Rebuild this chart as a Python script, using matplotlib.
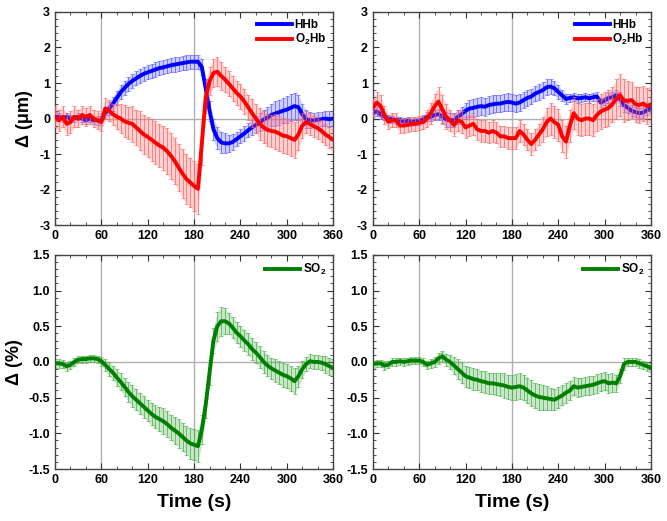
import numpy as np
import matplotlib
matplotlib.use('Agg')
import matplotlib.pyplot as plt
from matplotlib.ticker import MultipleLocator

plt.rcParams['font.family'] = ['Liberation Sans', 'DejaVu Sans']
plt.rcParams['font.weight'] = 'bold'
plt.rcParams['mathtext.fontset'] = 'custom'
plt.rcParams['mathtext.rm'] = 'Liberation Sans:bold'
plt.rcParams['mathtext.bf'] = 'Liberation Sans:bold'

# time axis, one reading every 5 s
time = np.arange(0, 361, 5)

# left column: first condition
hhb_left = [0.05, 0.05, 0.0, 0.05, 0.0, 0.0, 0.05, 0.0, -0.05, 0.0, -0.05, -0.05,
            -0.05, 0.15, 0.28, 0.42, 0.58, 0.74, 0.86, 0.97, 1.06, 1.13, 1.2, 1.26,
            1.3, 1.34, 1.38, 1.42, 1.44, 1.47, 1.5, 1.52, 1.54, 1.56, 1.58, 1.6,
            1.6, 1.6, 1.45, 0.85, 0.22, -0.3, -0.55, -0.67, -0.7, -0.7, -0.66, -0.58,
            -0.5, -0.42, -0.33, -0.25, -0.18, -0.1, -0.03, 0.03, 0.1, 0.14, 0.18, 0.22,
            0.25, 0.3, 0.35, 0.32, 0.12, -0.02, -0.05, -0.05, -0.03, -0.02, 0.0, -0.02,
            0.0]
hhb_left_err = [0.12, 0.1, 0.1, 0.1, 0.1, 0.1, 0.1, 0.1, 0.1, 0.1, 0.1, 0.12,
                0.12, 0.15, 0.18, 0.2, 0.2, 0.2, 0.2, 0.2, 0.2, 0.2, 0.2, 0.2,
                0.2, 0.2, 0.2, 0.2, 0.2, 0.2, 0.2, 0.2, 0.2, 0.2, 0.2, 0.2,
                0.2, 0.2, 0.22, 0.25, 0.28, 0.3, 0.3, 0.3, 0.28, 0.25, 0.22, 0.2,
                0.2, 0.2, 0.2, 0.2, 0.22, 0.25, 0.28, 0.3, 0.32, 0.35, 0.35, 0.35,
                0.38, 0.38, 0.38, 0.35, 0.3, 0.25, 0.22, 0.2, 0.2, 0.2, 0.22, 0.22,
                0.22]
o2hb_left = [0.05, -0.05, 0.05, -0.15, -0.1, 0.05, 0.0, 0.1, 0.05, 0.1, 0.0, -0.05,
             -0.1, 0.28, 0.22, 0.12, 0.05, 0.0, -0.08, -0.12, -0.15, -0.25, -0.35, -0.45,
             -0.52, -0.6, -0.68, -0.76, -0.82, -0.92, -1.05, -1.2, -1.38, -1.55, -1.7, -1.8,
             -1.9, -1.98, -0.7, 0.6, 1.05, 1.28, 1.32, 1.2, 1.1, 0.98, 0.85, 0.72,
             0.62, 0.48, 0.32, 0.15, 0.0, -0.15, -0.25, -0.32, -0.35, -0.37, -0.42, -0.48,
             -0.5, -0.55, -0.6, -0.45, -0.2, -0.1, -0.15, -0.22, -0.27, -0.35, -0.45, -0.52,
             -0.6]
o2hb_left_err = [0.3, 0.3, 0.3, 0.3, 0.3, 0.3, 0.25, 0.25, 0.25, 0.25, 0.25, 0.25,
                 0.25, 0.3, 0.3, 0.3, 0.35, 0.4, 0.45, 0.45, 0.5, 0.5, 0.55, 0.55,
                 0.55, 0.6, 0.6, 0.6, 0.62, 0.65, 0.65, 0.65, 0.65, 0.68, 0.7, 0.7,
                 0.7, 0.7, 0.6, 0.45, 0.4, 0.4, 0.4, 0.4, 0.35, 0.35, 0.35, 0.35,
                 0.35, 0.35, 0.35, 0.4, 0.4, 0.45, 0.45, 0.45, 0.45, 0.5, 0.5, 0.5,
                 0.5, 0.5, 0.5, 0.45, 0.35, 0.3, 0.3, 0.3, 0.3, 0.3, 0.3, 0.3,
                 0.3]
so2_left = [-0.02, -0.02, -0.03, -0.06, -0.04, 0.0, 0.03, 0.04, 0.04, 0.05, 0.05, 0.04,
            0.01, -0.04, -0.1, -0.15, -0.22, -0.28, -0.35, -0.42, -0.48, -0.53, -0.58, -0.63,
            -0.68, -0.73, -0.77, -0.8, -0.83, -0.87, -0.92, -0.96, -1.0, -1.05, -1.1, -1.14,
            -1.16, -1.18, -0.95, -0.6, -0.15, 0.3, 0.5, 0.57, 0.57, 0.54, 0.48, 0.41,
            0.36, 0.3, 0.25, 0.18, 0.13, 0.07, 0.0, -0.05, -0.09, -0.12, -0.15, -0.18,
            -0.2, -0.23, -0.27, -0.2, -0.1, -0.03, 0.01, 0.0, 0.0, -0.01, -0.03, -0.06,
            -0.08]
so2_left_err = [0.06, 0.06, 0.06, 0.06, 0.06, 0.06, 0.05, 0.05, 0.05, 0.05, 0.05, 0.05,
                0.06, 0.08, 0.1, 0.1, 0.12, 0.12, 0.13, 0.14, 0.15, 0.15, 0.15, 0.15,
                0.15, 0.16, 0.16, 0.17, 0.18, 0.18, 0.18, 0.19, 0.2, 0.2, 0.2, 0.22,
                0.22, 0.22, 0.2, 0.18, 0.18, 0.18, 0.2, 0.2, 0.18, 0.15, 0.15, 0.15,
                0.15, 0.15, 0.15, 0.15, 0.15, 0.15, 0.15, 0.15, 0.15, 0.16, 0.16, 0.17,
                0.17, 0.18, 0.18, 0.15, 0.12, 0.1, 0.1, 0.1, 0.1, 0.1, 0.12, 0.12,
                0.12]

# right column: second condition
hhb_right = [0.15, 0.2, 0.12, 0.05, 0.0, -0.02, -0.05, -0.05, -0.08, -0.06, -0.1, -0.08,
             -0.08, -0.02, 0.05, 0.05, 0.1, 0.12, 0.05, -0.03, -0.05, -0.05, 0.05, 0.12,
             0.22, 0.28, 0.3, 0.33, 0.35, 0.33, 0.38, 0.4, 0.42, 0.42, 0.45, 0.47,
             0.45, 0.42, 0.45, 0.52, 0.58, 0.62, 0.7, 0.75, 0.8, 0.88, 0.9, 0.85,
             0.75, 0.65, 0.55, 0.58, 0.6, 0.57, 0.58, 0.6, 0.57, 0.6, 0.62, 0.45,
             0.5, 0.58, 0.6, 0.66, 0.55, 0.38, 0.3, 0.22, 0.18, 0.15, 0.17, 0.24,
             0.3]
hhb_right_err = [0.12, 0.12, 0.12, 0.1, 0.1, 0.1, 0.1, 0.1, 0.1, 0.1, 0.1, 0.1,
                 0.1, 0.1, 0.12, 0.12, 0.15, 0.15, 0.18, 0.2, 0.2, 0.2, 0.2, 0.2,
                 0.22, 0.25, 0.25, 0.25, 0.25, 0.25, 0.25, 0.25, 0.25, 0.25, 0.25, 0.25,
                 0.25, 0.25, 0.25, 0.22, 0.22, 0.22, 0.22, 0.22, 0.22, 0.22, 0.22, 0.2,
                 0.2, 0.15, 0.15, 0.12, 0.12, 0.12, 0.12, 0.12, 0.12, 0.12, 0.12, 0.12,
                 0.12, 0.15, 0.15, 0.15, 0.2, 0.2, 0.15, 0.15, 0.15, 0.15, 0.15, 0.15,
                 0.15]
o2hb_right = [0.3, 0.45, 0.35, 0.1, -0.09, -0.05, -0.05, -0.2, -0.2, -0.18, -0.15, -0.15,
              -0.12, -0.1, 0.0, 0.15, 0.35, 0.48, 0.25, 0.05, -0.05, -0.18, -0.05, -0.1,
              -0.25, -0.2, -0.15, -0.3, -0.35, -0.35, -0.4, -0.35, -0.4, -0.5, -0.5, -0.55,
              -0.55, -0.55, -0.35, -0.45, -0.6, -0.72, -0.6, -0.45, -0.3, -0.1, 0.0, -0.1,
              -0.18, -0.5, -0.65, -0.2, 0.15, 0.0, -0.05, 0.0, 0.0, -0.05, 0.1, 0.2,
              0.25, 0.3, 0.4, 0.55, 0.66, 0.5, 0.5, 0.52, 0.4, 0.38, 0.42, 0.35,
              0.4]
o2hb_right_err = [0.25, 0.3, 0.3, 0.25, 0.2, 0.2, 0.2, 0.2, 0.2, 0.2, 0.2, 0.2,
                  0.2, 0.2, 0.25, 0.3, 0.35, 0.4, 0.4, 0.35, 0.3, 0.3, 0.3, 0.3,
                  0.3, 0.3, 0.3, 0.3, 0.3, 0.3, 0.3, 0.3, 0.3, 0.3, 0.3, 0.3,
                  0.3, 0.3, 0.3, 0.3, 0.3, 0.3, 0.3, 0.3, 0.35, 0.4, 0.45, 0.45,
                  0.45, 0.45, 0.45, 0.45, 0.45, 0.45, 0.45, 0.45, 0.45, 0.45, 0.45, 0.5,
                  0.5, 0.5, 0.5, 0.55, 0.6, 0.6, 0.55, 0.5, 0.5, 0.5, 0.5, 0.5,
                  0.5]
so2_right = [-0.03, -0.02, -0.02, -0.05, -0.04, 0.0, 0.0, 0.01, 0.0, 0.01, 0.02, 0.02,
             0.02, 0.0, -0.04, -0.02, 0.0, 0.05, 0.08, 0.03, 0.0, -0.05, -0.1, -0.15,
             -0.2, -0.22, -0.24, -0.25, -0.27, -0.28, -0.3, -0.3, -0.31, -0.32, -0.33, -0.35,
             -0.36, -0.35, -0.34, -0.36, -0.4, -0.44, -0.47, -0.49, -0.5, -0.51, -0.52, -0.53,
             -0.5, -0.47, -0.43, -0.4, -0.34, -0.36, -0.35, -0.34, -0.33, -0.32, -0.3, -0.28,
             -0.27, -0.3, -0.29, -0.3, -0.2, -0.03, 0.0, 0.0, 0.0, -0.02, -0.04, -0.06,
             -0.08]
so2_right_err = [0.05, 0.05, 0.05, 0.06, 0.05, 0.05, 0.05, 0.05, 0.05, 0.05, 0.05, 0.05,
                 0.05, 0.05, 0.06, 0.06, 0.07, 0.08, 0.08, 0.08, 0.1, 0.12, 0.14, 0.15,
                 0.15, 0.15, 0.15, 0.15, 0.15, 0.15, 0.15, 0.15, 0.15, 0.16, 0.17, 0.17,
                 0.18, 0.18, 0.18, 0.18, 0.18, 0.18, 0.18, 0.18, 0.18, 0.17, 0.16, 0.15,
                 0.15, 0.14, 0.14, 0.13, 0.13, 0.13, 0.13, 0.13, 0.13, 0.13, 0.13, 0.13,
                 0.13, 0.13, 0.13, 0.12, 0.1, 0.08, 0.06, 0.06, 0.06, 0.06, 0.06, 0.06,
                 0.06]

x_ticks = [0, 60, 120, 180, 240, 300, 360]
markers_s = [60, 180]

fig = plt.figure(figsize=(6.67, 5.21), dpi=100)
ax_tl = fig.add_axes([0.0825, 0.568, 0.417, 0.409])
ax_tr = fig.add_axes([0.559, 0.568, 0.417, 0.409])
ax_bl = fig.add_axes([0.0825, 0.0998, 0.417, 0.411])
ax_br = fig.add_axes([0.559, 0.0998, 0.417, 0.411])


def draw_series(ax, y, err, color, light, label, z):
    y = np.array(y)
    err = np.array(err)
    ax.fill_between(time, y - err, y + err, color=light, alpha=0.3, lw=0, zorder=z)
    ax.errorbar(time, y, yerr=err, fmt='none', ecolor=light, elinewidth=0.7,
                capsize=1.3, capthick=0.6, alpha=0.75, zorder=z)
    ax.plot(time, y, color=color, lw=2.8, label=label, zorder=z + 1)


def style_axis(ax, ymin, ymax, major, minor):
    ax.set_xlim(0, 360)
    ax.set_ylim(ymin, ymax)
    ax.xaxis.set_major_locator(MultipleLocator(60))
    ax.xaxis.set_minor_locator(MultipleLocator(20))
    ax.yaxis.set_major_locator(MultipleLocator(major))
    ax.yaxis.set_minor_locator(MultipleLocator(minor))
    for xv in markers_s:
        ax.axvline(xv, color='#b0b0b0', lw=1, zorder=1)
    ax.axhline(0, color='#b0b0b0', lw=1, zorder=1)
    for sp in ax.spines.values():
        sp.set_color('#444444')
        sp.set_linewidth(1.0)
    ax.tick_params(which='both', direction='in', top=True, right=True,
                   colors='#333333', labelsize=9)
    ax.tick_params(which='major', length=4, width=0.8)
    ax.tick_params(which='minor', length=2, width=0.6)
    for lbl in ax.get_xticklabels() + ax.get_yticklabels():
        lbl.set_fontweight('bold')
        lbl.set_color('black')


for ax, hhb, hhb_e, o2, o2_e in [(ax_tl, hhb_left, hhb_left_err, o2hb_left, o2hb_left_err),
                                 (ax_tr, hhb_right, hhb_right_err, o2hb_right, o2hb_right_err)]:
    draw_series(ax, hhb, hhb_e, '#0000ff', '#5a5aff', 'HHb', 2)
    draw_series(ax, o2, o2_e, '#ff0000', '#ff6464', r'O$_2$Hb', 4)
    style_axis(ax, -3, 3, 1, 0.2)
    ax.set_yticks([-3, -2, -1, 0, 1, 2, 3])
    ax.set_yticklabels(['-3', '-2', '-1', '0', '1', '2', '3'], fontweight='bold')
    ax.legend(loc='upper right', frameon=False, handlelength=3,
              handletextpad=0.2, labelspacing=0.1, borderaxespad=0.2,
              prop={'weight': 'bold', 'size': 8.5})

for ax, so2, so2_e in [(ax_bl, so2_left, so2_left_err), (ax_br, so2_right, so2_right_err)]:
    draw_series(ax, so2, so2_e, '#008000', '#4caf4c', r'SO$_2$', 2)
    style_axis(ax, -1.5, 1.5, 0.5, 0.1)
    ax.set_yticks([-1.5, -1.0, -0.5, 0.0, 0.5, 1.0, 1.5])
    ax.set_yticklabels(['-1.5', '-1.0', '-0.5', '0.0', '0.5', '1.0', '1.5'], fontweight='bold')
    ax.legend(loc='upper right', frameon=False, handlelength=3,
              handletextpad=0.2, borderaxespad=0.2,
              prop={'weight': 'bold', 'size': 8.5})
    ax.set_xlabel('Time (s)', fontsize=14, fontweight='bold', labelpad=6)

for ax in [ax_tl, ax_tr, ax_bl, ax_br]:
    ax.set_xticks(x_ticks)
    ax.set_xticklabels([str(v) for v in x_ticks], fontweight='bold')

ax_tl.set_ylabel('Δ (μm)', fontsize=13, fontweight='bold', labelpad=4)
ax_bl.set_ylabel('Δ (%)', fontsize=13, fontweight='bold', labelpad=4)

fig.savefig('out.png', dpi=100)
